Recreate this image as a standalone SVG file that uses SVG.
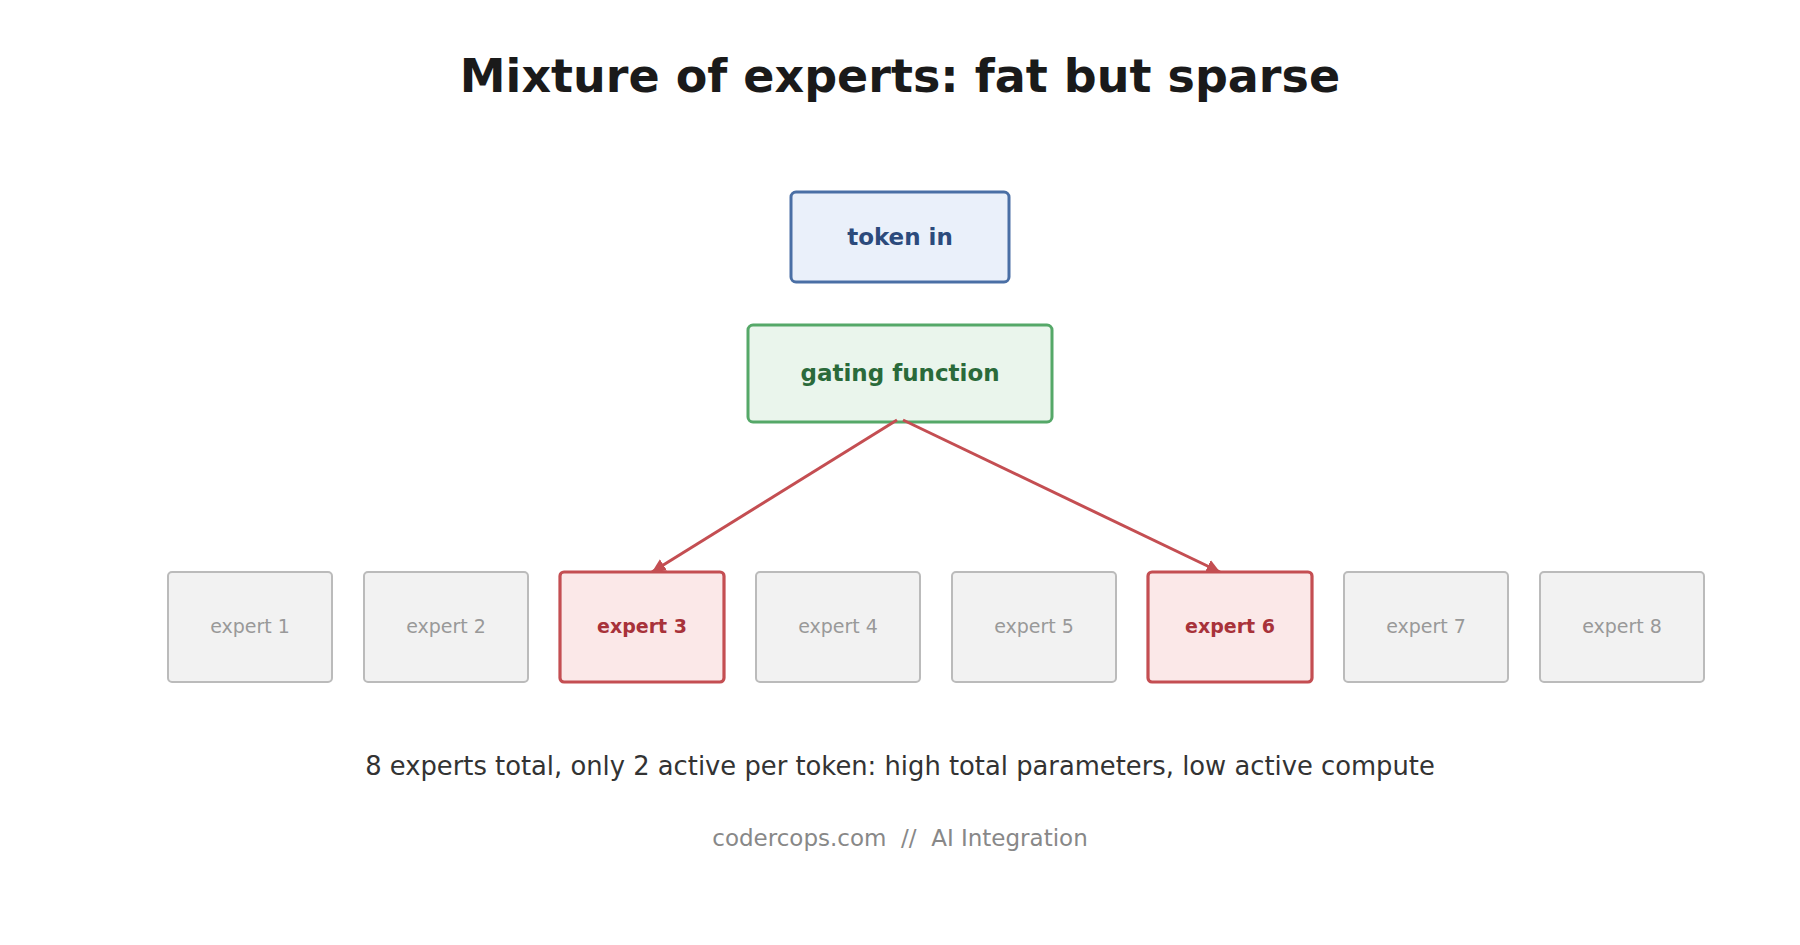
<svg xmlns="http://www.w3.org/2000/svg" width="1800" height="945" viewBox="0 0 1800 945">
<style>
text{font-family:"DejaVu Sans","Liberation Sans",sans-serif;text-anchor:middle}
.title{font-size:46px;font-weight:bold;fill:#1a1a1a}
.token rect{fill:#eaf0fa;stroke:#4a6fa5;stroke-width:3}
.token text{font-size:23px;font-weight:bold;fill:#2c4a7c}
.gate rect{fill:#eaf5ec;stroke:#55a868;stroke-width:3}
.gate text{font-size:23px;font-weight:bold;fill:#2a6a3a}
.exp rect{fill:#f2f2f2;stroke:#bbbbbb;stroke-width:2}
.exp text{font-size:19px;fill:#999999}
.act rect{fill:#fbe8e8;stroke:#c44e52;stroke-width:3.2}
.act text{font-size:19px;font-weight:bold;fill:#a8323a}
.edge{stroke:#c44e52;stroke-width:3;fill:none}
.caption{font-size:25.8px;fill:#333333}
.footer{font-size:23px;fill:#888888}
</style>
<defs>
<marker id="arr" viewBox="0 0 10 10" refX="10" refY="5" markerWidth="4.5" markerHeight="4.5" orient="auto" markerUnits="strokeWidth">
<path d="M0,0 L10,5 L0,10 z" fill="#c44e52"/>
</marker>
</defs>
<rect width="1800" height="945" fill="#ffffff"/>
<text class="title" x="900" y="92">Mixture of experts: fat but sparse</text>
<g id="token-in" class="token">
<rect x="791" y="192" width="218" height="90" rx="5"/>
<text x="900" y="245">token in</text>
</g>
<g id="gating-function" class="gate">
<rect x="748" y="325" width="304" height="97" rx="5"/>
<text x="900" y="381">gating function</text>
</g>
<g id="connectors">
<line class="edge" x1="897" y1="420" x2="652" y2="572" marker-end="url(#arr)"/>
<line class="edge" x1="903" y1="420" x2="1220" y2="572" marker-end="url(#arr)"/>
</g>
<g id="expert-1" class="exp"><rect x="168" y="572" width="164" height="110" rx="4"/><text x="250" y="633">expert 1</text></g>
<g id="expert-2" class="exp"><rect x="364" y="572" width="164" height="110" rx="4"/><text x="446" y="633">expert 2</text></g>
<g id="expert-3" class="act"><rect x="560" y="572" width="164" height="110" rx="4"/><text x="642" y="633">expert 3</text></g>
<g id="expert-4" class="exp"><rect x="756" y="572" width="164" height="110" rx="4"/><text x="838" y="633">expert 4</text></g>
<g id="expert-5" class="exp"><rect x="952" y="572" width="164" height="110" rx="4"/><text x="1034" y="633">expert 5</text></g>
<g id="expert-6" class="act"><rect x="1148" y="572" width="164" height="110" rx="4"/><text x="1230" y="633">expert 6</text></g>
<g id="expert-7" class="exp"><rect x="1344" y="572" width="164" height="110" rx="4"/><text x="1426" y="633">expert 7</text></g>
<g id="expert-8" class="exp"><rect x="1540" y="572" width="164" height="110" rx="4"/><text x="1622" y="633">expert 8</text></g>
<text class="caption" x="900" y="775">8 experts total, only 2 active per token: high total parameters, low active compute</text>
<text class="footer" x="900" y="846" xml:space="preserve">codercops.com  //  AI Integration</text>
</svg>
